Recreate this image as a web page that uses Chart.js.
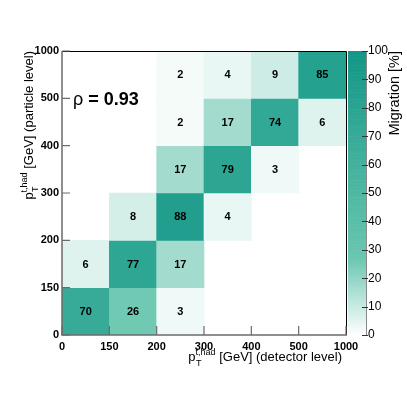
<!DOCTYPE html>
<html>
<head>
<meta charset="utf-8">
<script src="https://cdn.jsdelivr.net/npm/chart.js@4/dist/chart.umd.min.js"></script>
<style>
  html, body { margin: 0; padding: 0; background: #fff; }
  #c { display: block; }
</style>
</head>
<body>
<canvas id="c" width="407" height="395"></canvas>
<script>
// bin edges in GeV (same binning on both axes)
const binEdges = ['0', '150', '200', '300', '400', '500', '1000'];

// migration in %, one array per particle-level bin, columns = detector-level bins
const ptBin0 = [70, 26, 3, 0, 0, 0];
const ptBin1 = [6, 77, 17, 0, 0, 0];
const ptBin2 = [0, 8, 88, 4, 0, 0];
const ptBin3 = [0, 0, 17, 79, 3, 0];
const ptBin4 = [0, 0, 2, 17, 74, 6];
const ptBin5 = [0, 0, 2, 4, 9, 85];
const rows = [ptBin0, ptBin1, ptBin2, ptBin3, ptBin4, ptBin5];

const correlation = 0.93;
const zMin = 0, zMax = 100, zStep = 10;

// white -> teal palette
const paletteStops = [
  [0, [255, 255, 255]],
  [17, [163, 220, 207]],
  [27, [106, 199, 176]],
  [70, [55, 171, 152]],
  [100, [18, 150, 134]]
];

function paletteColor(v) {
  v = Math.max(zMin, Math.min(zMax, v));
  for (let i = 1; i < paletteStops.length; i++) {
    const [v0, c0] = paletteStops[i - 1];
    const [v1, c1] = paletteStops[i];
    if (v <= v1) {
      const t = (v - v0) / (v1 - v0);
      const c = c0.map((a, k) => Math.round(a + (c1[k] - a) * t));
      return `rgb(${c[0]},${c[1]},${c[2]})`;
    }
  }
  return 'rgb(18,150,134)';
}

// cells (zero cells are not drawn)
const cells = [];
rows.forEach((row, r) => {
  row.forEach((v, c) => {
    if (v > 0) cells.push({ x: c + 0.5, y: [r, r + 1], v: v });
  });
});

const FONT = "'Liberation Sans', Arial, Helvetica, sans-serif";
const axisGrey = '#6b6b6b';

// draws "p_T^{t,had} <rest>" ending at x=0 on the baseline, in the current transform
function drawPtTitle(ctx, rest) {
  const big = '13px ' + FONT, small = '9px ' + FONT;
  ctx.font = big;
  const wp = ctx.measureText('p').width;
  const wr = ctx.measureText(rest).width;
  ctx.font = small;
  const ws = ctx.measureText('t,had').width;
  const total = wp + ws + wr;
  let x = -total;
  ctx.textAlign = 'left';
  ctx.textBaseline = 'alphabetic';
  ctx.font = big;
  ctx.fillText('p', x, 0);
  x += wp;
  ctx.font = small;
  ctx.fillText('t,had', x, -6);
  ctx.fillText('T', x + 0.5, 5);
  x += ws;
  ctx.font = big;
  ctx.fillText(rest, x, 0);
}

const matrixDecor = {
  id: 'matrixDecor',
  afterDatasetsDraw(chart) {
    const ctx = chart.ctx;
    const area = chart.chartArea;
    const xs = chart.scales.x, ys = chart.scales.y, zs = chart.scales.z;

    // cell labels
    const meta = chart.getDatasetMeta(0);
    ctx.save();
    ctx.fillStyle = '#000';
    ctx.font = 'bold 11px ' + FONT;
    ctx.textAlign = 'center';
    ctx.textBaseline = 'middle';
    meta.data.forEach((bar, i) => {
      const p = bar.getProps(['x', 'y', 'base'], true);
      ctx.fillText(String(cells[i].v), p.x, (p.y + p.base) / 2 + 0.5);
    });
    ctx.restore();

    // frame
    ctx.save();
    ctx.lineWidth = 1;
    ctx.strokeStyle = '#000';
    ctx.beginPath();
    ctx.moveTo(area.left, area.top + 0.5);
    ctx.lineTo(area.right + 0.5, area.top + 0.5);
    ctx.lineTo(area.right + 0.5, area.bottom);
    ctx.stroke();
    ctx.strokeStyle = axisGrey;
    ctx.lineWidth = 1.5;
    ctx.beginPath();
    ctx.moveTo(area.left, area.top);
    ctx.lineTo(area.left, area.bottom);
    ctx.lineTo(area.right + 1, area.bottom);
    ctx.stroke();

    // inner tick marks
    ctx.lineWidth = 1.2;
    ctx.beginPath();
    binEdges.forEach((_, i) => {
      const px = xs.getPixelForValue(i);
      ctx.moveTo(px, area.bottom);
      ctx.lineTo(px, area.bottom - 9);
      const py = ys.getPixelForValue(i);
      ctx.moveTo(area.left, py);
      ctx.lineTo(area.left + 8, py);
    });
    ctx.stroke();
    ctx.restore();

    // colour bar
    const bx = area.right + 2, bw = 18;
    ctx.save();
    for (let v = zMin; v < zMax; v += 0.5) {
      const yTop = zs.getPixelForValue(v + 0.5);
      const yBot = zs.getPixelForValue(v);
      ctx.fillStyle = paletteColor(v + 0.25);
      ctx.fillRect(bx, yTop, bw, yBot - yTop + 0.6);
    }
    ctx.strokeStyle = '#8a8a8a';
    ctx.lineWidth = 1;
    ctx.beginPath();
    ctx.moveTo(bx + bw + 0.5, area.top);
    ctx.lineTo(bx + bw + 0.5, area.bottom);
    ctx.stroke();
    ctx.strokeStyle = '#333';
    ctx.beginPath();
    for (let v = zMin; v <= zMax; v += zStep) {
      const py = Math.round(zs.getPixelForValue(v)) + 0.5;
      ctx.moveTo(bx + bw - 4, py);
      ctx.lineTo(bx + bw + 2, py);
    }
    ctx.stroke();

    // colour bar title
    ctx.fillStyle = '#000';
    ctx.translate(395, area.top);
    ctx.rotate(-Math.PI / 2);
    ctx.font = '14.5px ' + FONT;
    ctx.textAlign = 'right';
    ctx.textBaseline = 'middle';
    ctx.fillText('Migration [%]', 0, 0);
    ctx.restore();

    // axis titles
    ctx.save();
    ctx.fillStyle = '#000';
    ctx.translate(area.right - 4, 361);
    drawPtTitle(ctx, ' [GeV] (detector level)');
    ctx.restore();

    ctx.save();
    ctx.fillStyle = '#000';
    ctx.translate(33, area.top);
    ctx.rotate(-Math.PI / 2);
    drawPtTitle(ctx, ' [GeV] (particle level)');
    ctx.restore();

    // correlation
    ctx.save();
    ctx.fillStyle = '#000';
    ctx.textAlign = 'left';
    ctx.textBaseline = 'alphabetic';
    ctx.font = '18px ' + FONT;
    ctx.fillText('\u03C1', 73, 104.5);
    const wr = ctx.measureText('\u03C1 ').width;
    ctx.font = 'bold 18px ' + FONT;
    ctx.fillText('= ' + correlation.toFixed(2), 73 + wr, 104.5);
    ctx.restore();
  }
};

const edgeTicks = (scale) => {
  scale.ticks = binEdges.map((_, i) => ({ value: i }));
};

new Chart(document.getElementById('c'), {
  type: 'bar',
  data: {
    datasets: [{
      data: cells,
      backgroundColor: (c) => c.raw ? paletteColor(c.raw.v) : '#fff',
      borderWidth: 0,
      barPercentage: 1,
      categoryPercentage: 1
    }]
  },
  options: {
    responsive: false,
    animation: false,
    layout: { padding: { top: 51, left: 0, right: 0, bottom: 0 } },
    plugins: { legend: { display: false }, tooltip: { enabled: false } },
    scales: {
      x: {
        type: 'linear',
        min: 0,
        max: binEdges.length - 1,
        offset: false,
        afterBuildTicks: edgeTicks,
        afterFit: (s) => { s.height = 60; },
        grid: { display: false, drawTicks: false },
        border: { display: false },
        ticks: {
          autoSkip: false,
          maxRotation: 0,
          padding: 5,
          color: '#000',
          font: { family: FONT, size: 11, weight: 'bold' },
          callback: (v) => binEdges[v]
        }
      },
      y: {
        type: 'linear',
        min: 0,
        max: binEdges.length - 1,
        afterBuildTicks: edgeTicks,
        afterFit: (s) => { s.width = 62; },
        grid: { display: false, drawTicks: false },
        border: { display: false },
        ticks: {
          autoSkip: false,
          padding: 3,
          color: '#000',
          font: { family: FONT, size: 11, weight: 'bold' },
          callback: (v) => binEdges[v]
        }
      },
      z: {
        type: 'linear',
        position: 'right',
        min: zMin,
        max: zMax,
        afterFit: (s) => { s.width = 61; },
        grid: { drawOnChartArea: false, drawTicks: false },
        border: { display: false },
        ticks: {
          stepSize: zStep,
          padding: 22,
          color: '#000',
          font: { family: FONT, size: 12 }
        }
      }
    }
  },
  plugins: [matrixDecor]
});
</script>
</body>
</html>
